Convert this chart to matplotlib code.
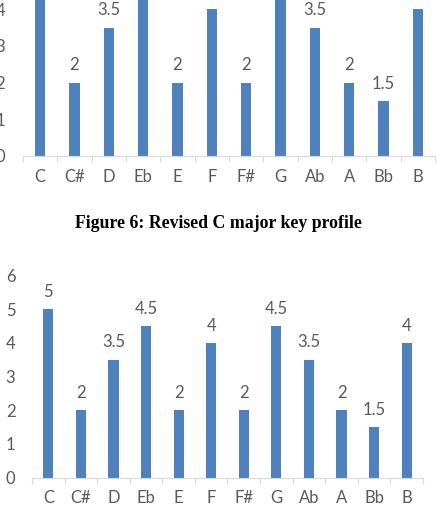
import matplotlib
matplotlib.use('Agg')
import matplotlib.pyplot as plt
import numpy as np

# note names and key profile weights
notes = ['C', 'C#', 'D', 'Eb', 'E', 'F', 'F#', 'G', 'Ab', 'A', 'Bb', 'B']
profile_top = [5, 2, 3.5, 4.5, 2, 4, 2, 4.5, 3.5, 2, 1.5, 4]
profile_bottom = [5, 2, 3.5, 4.5, 2, 4, 2, 4.5, 3.5, 2, 1.5, 4]
y_ticks = [0, 1, 2, 3, 4, 5, 6]
caption = 'Figure 6: Revised C major key profile'

bar_color = '#4f81bd'
text_color = '#595959'
axis_color = '#d9d9d9'
plt.rcParams['font.family'] = ['Lato', 'DejaVu Sans']

W, H = 447, 511
fig = plt.figure(figsize=(W / 100, H / 100), dpi=100)


def px_axes(left, right, y0, unit):
    # place axes by pixel coords: y0 = pixel row of value 0, unit = px per 1
    top = y0 - 6 * unit
    return fig.add_axes([left / W, 1 - y0 / H, (right - left) / W, (y0 - top) / H])


def draw(ax, values, label_pad):
    x = np.arange(len(notes))
    ax.bar(x, values, width=0.31, color=bar_color)
    for xi, v in zip(x, values):
        ax.annotate(f'{v:g}', (xi, v), xytext=(0, 12.5), textcoords='offset points',
                    ha='center', va='center', fontsize=12, color=text_color)
    ax.set_xlim(-0.5, len(notes) - 0.5)
    ax.set_ylim(0, 6)
    ax.set_xticks(x)
    ax.set_xticklabels(notes)
    ax.set_xticks(np.arange(-0.5, len(notes)), minor=True)
    ax.tick_params(axis='x', which='major', length=0, pad=9, labelsize=12, labelcolor=text_color)
    ax.tick_params(axis='x', which='minor', length=4, width=0.8, color=axis_color)
    ax.set_yticks(y_ticks)
    ax.tick_params(axis='y', length=0, pad=label_pad, labelsize=12, labelcolor=text_color)
    for s in ['top', 'right', 'left']:
        ax.spines[s].set_visible(False)
    ax.spines['bottom'].set_color(axis_color)
    ax.spines['bottom'].set_linewidth(0.8)
    ax.set_facecolor('none')


ax1 = px_axes(23, 435, 156, 36.7)
draw(ax1, profile_top, 13)

fig.text(218 / W, 1 - 223 / H, caption, ha='center', va='center', fontsize=12.8,
         fontweight='bold', family='Liberation Serif', color='black')

ax2 = px_axes(32, 423, 477.7, 33.7)
draw(ax2, profile_bottom, 12)

fig.savefig('out.png', dpi=100)
